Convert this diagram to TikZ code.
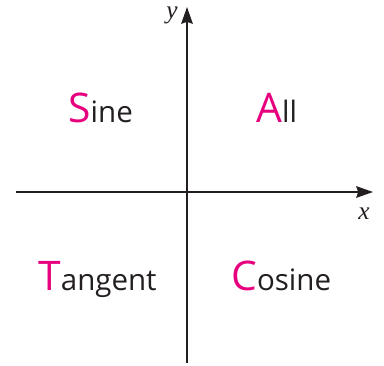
\documentclass[tikz,border=0pt]{standalone}
\usepackage{fontspec}
\setmainfont{Open Sans}
\newfontfamily\axisfont{Liberation Serif}
\usepackage{xcolor}
\usetikzlibrary{arrows.meta}
\definecolor{quadpink}{HTML}{E6007E}
\definecolor{inkdark}{HTML}{231F20}
\newcommand{\quadword}[2]{{\fontsize{29}{32}\selectfont\color{quadpink}#1}{\fontsize{21}{24}\selectfont #2}}

\begin{document}
\begin{tikzpicture}[
  x=0.25mm, y=-0.25mm,
  axis/.style={draw=inkdark, line width=1.1pt, -{Stealth[length=4.2mm, width=2.9mm, inset=0.5mm]}},
  quad/.style={anchor=base west, inner sep=0pt, text=inkdark},
  axislabel/.style={font=\axisfont\itshape\fontsize{18}{20}\selectfont, text=inkdark, inner sep=0pt}
]
\useasboundingbox (0,0) rectangle (384,365);
% axes
\coordinate (xstart) at (16,192);
\coordinate (xend) at (373,192);
\coordinate (ystart) at (187,363);
\coordinate (yend) at (187,7);
\draw[axis] (xstart) -- (xend);
\draw[axis] (ystart) -- (yend);
\node[axislabel] (xlab) at (364,214) {x};
\node[axislabel] (ylab) at (172,15) {y};
% quadrant words
\node[quad] (sine) at (68,122) {\quadword{S}{ine}};
\node[quad] (all) at (256,122) {\quadword{A}{ll}};
\node[quad] (tangent) at (38,290) {\quadword{T}{angent}};
\node[quad] (cosine) at (231,290) {\quadword{C}{osine}};
\end{tikzpicture}
\end{document}
